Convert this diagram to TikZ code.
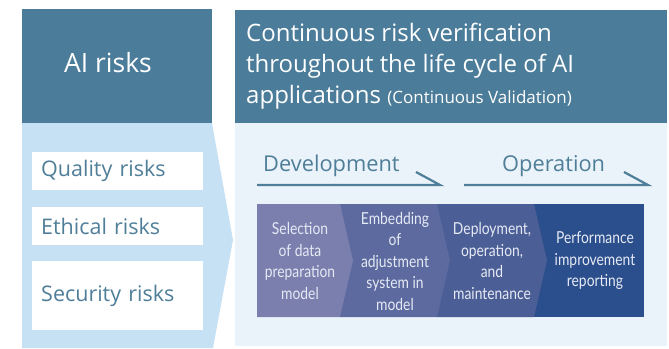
\documentclass[tikz,border=0pt]{standalone}
\usepackage{fontspec}
\setmainfont{Open Sans}
\newfontfamily\narrowfont[FakeStretch=0.84]{Lato}
\definecolor{headblue}{HTML}{4B7C99}
\definecolor{leftlight}{HTML}{C6E1F3}
\definecolor{rightlight}{HTML}{EBF3FA}
\definecolor{risktext}{HTML}{4F7E99}
\definecolor{stepA}{HTML}{7A7FAE}
\definecolor{stepB}{HTML}{5C6A9F}
\definecolor{stepC}{HTML}{4B5E96}
\definecolor{stepD}{HTML}{2B4E8C}
\definecolor{steptext}{HTML}{E6EAF4}

\tikzstyle{header} = [fill=headblue, draw=none]
\tikzstyle{riskbox} = [fill=white, anchor=north west, minimum width=171pt, inner xsep=9pt, inner ysep=0pt, text width=153pt, align=left, text=risktext, font=\fontsize{21.5}{25}\selectfont]
\tikzstyle{phase} = [text=risktext, font=\fontsize{21.8}{25}\selectfont, anchor=base west, inner sep=0pt]
\tikzstyle{phase line} = [draw=risktext, line width=2.2pt]
\tikzstyle{stepbox} = [text=steptext, align=center, inner sep=0pt, font=\narrowfont\fontsize{16.5}{21.5}\selectfont]

\begin{document}
\begin{tikzpicture}[x=1pt, y=-1pt]
       \useasboundingbox (0,0) rectangle (669,348);
       % left column
       \fill[leftlight] (22,123) -- (212,123) -- (233,240) -- (213,348) -- (22,348) -- cycle;
       \path[header] (22,9) rectangle (212,123);
       \node[text=white, font=\fontsize{26.5}{30}\selectfont] (airisks) at (108,63) {AI risks};
       \foreach \y/\h/\name/\txt in {152/38/quality/Quality risks, 207/38/ethical/Ethical risks, 261/69/security/Security risks} {
           \node[riskbox, minimum height=\h pt] (\name) at (32,\y) {\txt};
       }
       % right column
       \fill[rightlight] (235,123) rectangle (667,346);
       \path[header] (235,10) rectangle (667,123);
       \node[anchor=north west, inner sep=0pt, align=left, text=white, font=\fontsize{24}{31}\selectfont] (title) at (246,23)
           {Continuous risk verification\\throughout the life cycle of AI\\applications {\fontsize{17}{17}\selectfont(Continuous Validation)}};
       % phases
       \node[phase] (dev) at (263,171) {Development};
       \node[phase] (op) at (502,171) {Operation};
       \coordinate (devA) at (257,185);
       \coordinate (devB) at (440,185);
       \coordinate (devC) at (416,172);
       \coordinate (opA) at (464,185);
       \coordinate (opB) at (648,185);
       \coordinate (opC) at (624,172);
       \draw[phase line] (devA) -- (devB) -- (devC);
       \draw[phase line] (opA) -- (opB) -- (opC);
       % chevrons
       \fill[stepD] (534,204) rectangle (644,317);
       \foreach \l/\r/\col in {437/534/stepC, 340/437/stepB, 257/340/stepA} {
           \fill[\col] (\l,204) -- (\r,204) -- (\r+13,260.5) -- (\r,317) -- (\l,317) -- cycle;
       }
       \node[stepbox] (selection) at (300,261) {Selection\\of data\\preparation\\model};
       \node[stepbox] (embedding) at (395,261) {Embedding\\of\\adjustment\\system in\\model};
       \node[stepbox] (deployment) at (492,261) {Deployment,\\operation,\\and\\maintenance};
       \node[stepbox] (reporting) at (595,261) {Performance\\improvement\\reporting};
\end{tikzpicture}
\end{document}
